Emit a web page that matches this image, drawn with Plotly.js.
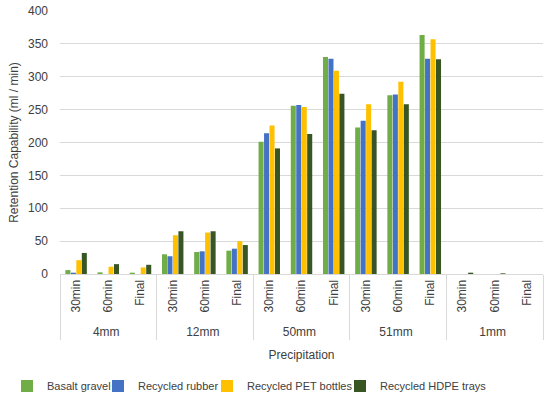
<!DOCTYPE html>
<html>
<head>
<meta charset="utf-8">
<script src="https://cdn.plot.ly/plotly-3.0.1.min.js"></script>
<style>html,body{margin:0;padding:0;background:#fff;}#chart{width:550px;height:399px;}</style>
</head>
<body>
<div id="chart"></div>
<script>
const groups = ["4mm","4mm","4mm","12mm","12mm","12mm","50mm","50mm","50mm","51mm","51mm","51mm","1mm","1mm","1mm"];
const times = ["30min","60min","Final","30min","60min","Final","30min","60min","Final","30min","60min","Final","30min","60min","Final"];
const basaltGravel   = [6, 2.5, 2, 30, 33.5, 35.5, 201, 256, 330, 223, 272, 363.5, 0, 0, 0];
const recycledRubber = [2, 0, 0, 27, 34.5, 38.5, 214, 257, 327.5, 233, 273, 327.5, 0, 0, 0];
const recycledPET    = [21, 11, 10, 59, 63, 50, 226, 254, 309, 258, 292.5, 357, 0, 0, 0];
const recycledHDPE   = [32, 15, 14, 65, 65, 44, 191, 213, 274, 218.5, 258, 326.5, 2, 1, 0];
const seriesNames = ["Basalt gravel","Recycled rubber","Recycled PET bottles","Recycled HDPE trays"];
const seriesColors = ["#70AD47","#4472C4","#FFC000","#375623"];
const seriesValues = [basaltGravel, recycledRubber, recycledPET, recycledHDPE];
const legendIds = ["legend","legend2","legend3","legend4"];
const legendTextStart = [49, 140, 249, 382];

const traces = seriesValues.map((v,i)=>({
  type:'bar', name: seriesNames[i], x:[groups, times], y: v,
  marker:{color: seriesColors[i]}, legend: legendIds[i]
}));

const layout = {
  width:550, height:399,
  margin:{l:60, r:7, t:11, b:125},
  paper_bgcolor:'#fff', plot_bgcolor:'#fff',
  font:{family:'"Liberation Sans", Arial, sans-serif', color:'#404040', size:12},
  barmode:'group', bargap:0.32, bargroupgap:0.08,
  xaxis:{
    type:'multicategory', automargin:false,
    showline:true, linecolor:'#D9D9D9', linewidth:1,
    tickangle:-90,
    tickfont:{size:12, color:'#404040'},
    showdividers:true, dividercolor:'#D9D9D9', dividerwidth:1,
    ticks:'', showgrid:false,
    title:{text:'Precipitation', font:{size:12, color:'#404040'}, standoff:12}
  },
  yaxis:{
    range:[0,400], dtick:50, showgrid:true, gridcolor:'#D9D9D9', gridwidth:1,
    zeroline:false, showline:false, ticks:'', automargin:false,
    tickfont:{size:12, color:'#404040'},
    ticklabelstandoff:11,
    title:{text:'Retention Capability (ml / min)', font:{size:12, color:'#404040'}, standoff:6}
  },
  showlegend:true
};
legendIds.forEach((id,i)=>{
  layout[id] = {orientation:'h', xref:'container', yref:'container',
    x:(legendTextStart[i]-42)/550, xanchor:'left', y:(399-386)/399, yanchor:'middle',
    font:{size:11, color:'#404040'}, itemwidth:30, bgcolor:'rgba(0,0,0,0)'};
});
Plotly.newPlot('chart', traces, layout, {displayModeBar:false, staticPlot:true});
</script>
</body>
</html>
